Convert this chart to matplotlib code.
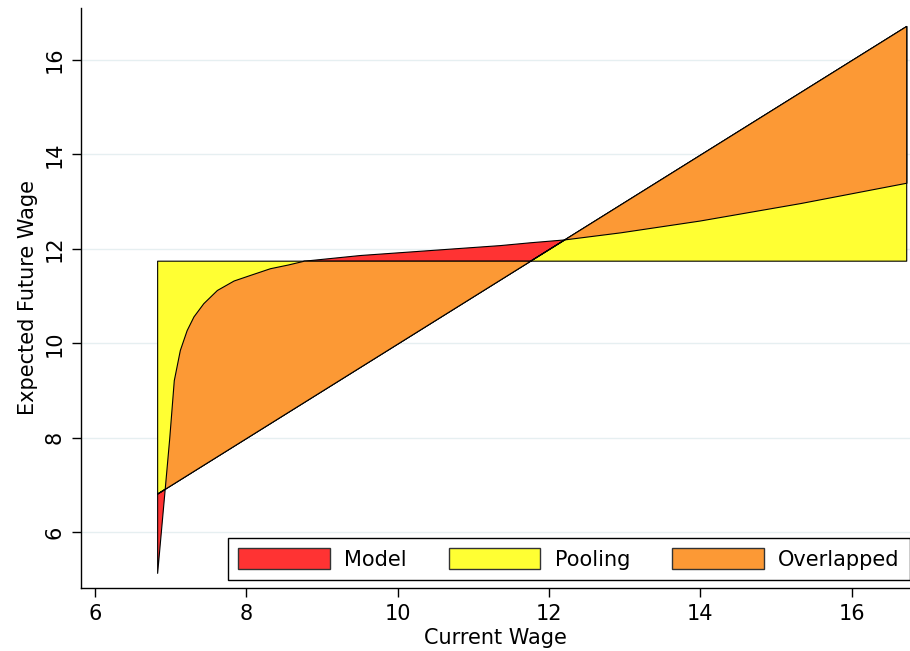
import numpy as np
import matplotlib.pyplot as plt
from matplotlib.patches import Patch

plt.rcParams['font.family'] = ['DejaVu Sans']

# current wage grid (including the crossing points)
wage = np.array([6.82, 6.92, 6.98, 7.04, 7.12, 7.21, 7.30, 7.43, 7.61, 7.83, 8.05, 8.31,
                 8.55, 8.76, 9.50, 10.47, 11.35, 11.75, 12.20, 12.94, 13.99, 15.32, 16.72])
# expected future wage under the model
model = np.array([5.14, 6.92, 8.00, 9.22, 9.86, 10.28, 10.57, 10.85, 11.13, 11.33, 11.45, 11.59,
                  11.67, 11.75, 11.87, 11.98, 12.08, 12.14, 12.20, 12.35, 12.60, 12.97, 13.40])
# expected future wage under pooling
pooling = np.full_like(wage, 11.75)

labels = ["Model", "Pooling", "Overlapped"]
colors = ["#ff3333", "#ffff33", "#fc9935"]

# bands between the current wage and each expectation
lo_m, hi_m = np.minimum(wage, model), np.maximum(wage, model)
lo_p, hi_p = np.minimum(wage, pooling), np.maximum(wage, pooling)
lo_o = np.maximum(lo_m, lo_p)
hi_o = np.maximum(np.minimum(hi_m, hi_p), lo_o)

fig = plt.figure(figsize=(9.1, 6.51), dpi=100)
ax = fig.add_axes([0.0887, 0.0968, 0.9113, 0.8909])

ax.fill_between(wage, lo_m, hi_m, facecolor=colors[0], edgecolor='black', linewidth=0.8, zorder=2)
ax.fill_between(wage, lo_p, hi_p, facecolor=colors[1], edgecolor='black', linewidth=0.8, zorder=3)
ax.fill_between(wage, lo_o, hi_o, facecolor=colors[2], edgecolor='black', linewidth=0.8, zorder=4)

ax.set_xlim(5.81, 16.77)
ax.set_ylim(4.82, 17.1)
ax.set_xticks([6, 8, 10, 12, 14, 16])
ax.set_yticks([6, 8, 10, 12, 14, 16])
ax.yaxis.grid(True, color='#e6eff1', linewidth=1.0, zorder=0)
ax.set_axisbelow(True)

for side in ['top', 'right']:
    ax.spines[side].set_visible(False)
for side in ['left', 'bottom']:
    ax.spines[side].set_linewidth(1.0)

ax.tick_params(axis='both', direction='out', length=6.5, width=1.0, labelsize=15, pad=5)
ax.tick_params(axis='y', labelrotation=90)
for lab in ax.get_yticklabels():
    lab.set_va('center')

ax.set_xlabel("Current Wage", fontsize=15, labelpad=3)
ax.set_ylabel("Expected Future Wage", fontsize=15, labelpad=5)

handles = [Patch(facecolor=c, edgecolor='#333333', linewidth=1.0) for c in colors]
leg = ax.legend(handles, labels, loc='lower right', bbox_to_anchor=(1.0, 0.0138),
                borderaxespad=0, ncol=3, fontsize=15, frameon=True, fancybox=False,
                framealpha=1, edgecolor='black', handlelength=4.4, handleheight=1.17,
                handletextpad=0.7, columnspacing=2.0, borderpad=0.5)
leg.get_frame().set_linewidth(1.0)
leg.set_zorder(10)

fig.savefig("out.png", dpi=100)
